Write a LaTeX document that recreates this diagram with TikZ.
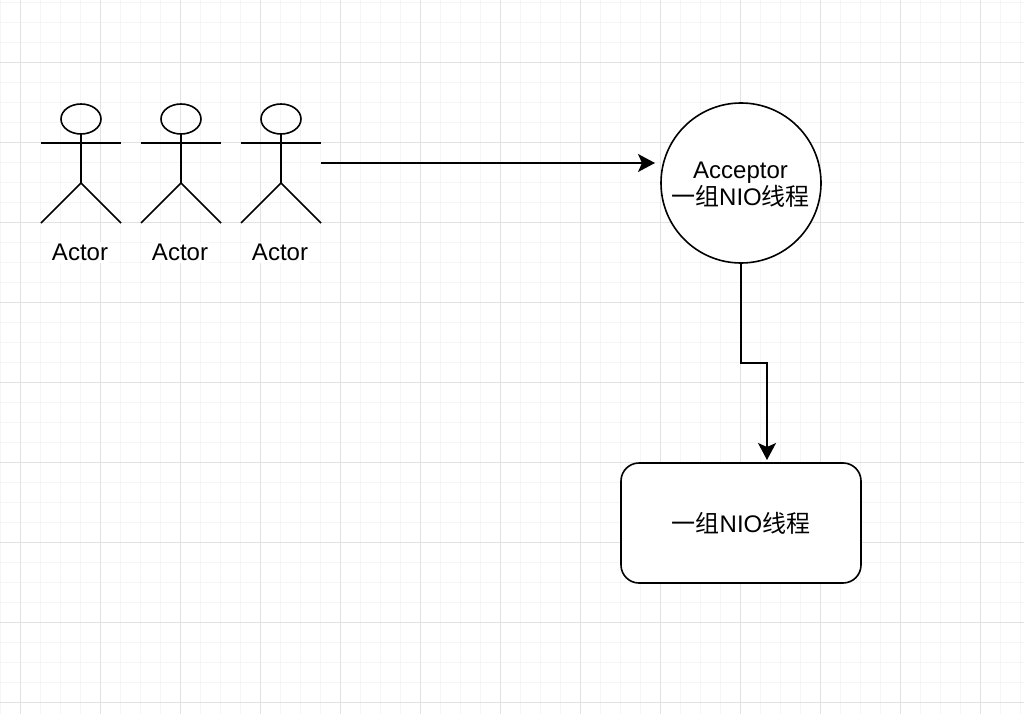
\documentclass[tikz,border=0pt]{standalone}
\usepackage{fontspec}
\setmainfont{Liberation Sans}
\newfontfamily\cjk{Noto Sans CJK SC}
\usetikzlibrary{arrows.meta}
\definecolor{gridmajor}{HTML}{E2E2E2}
\definecolor{gridminor}{HTML}{F5F5F5}
\newcommand{\zu}{{\cjk 一组}NIO{\cjk 线程}}
\tikzset{
  x=1pt,y=-1pt,
  shape line/.style={draw=black,line width=1.6pt,fill=white},
  stick/.style={draw=black,line width=1.6pt},
  conn/.style={draw=black,line width=1.6pt,-{Stealth[length=17pt,width=18pt,inset=4pt]}},
  label text/.style={font=\fontsize{24}{27}\selectfont,text=black,align=center,inner sep=0pt},
  actorlabel/.style={label text,fill=white,inner xsep=1pt,inner ysep=2pt},
  actorman/.pic={
    \node[minimum width=80pt,minimum height=120pt,inner sep=0pt,outer sep=0pt] (-frame) at (0,0) {};
    \draw[stick] (0,-44) ellipse [x radius=20,y radius=15];
    \draw[stick] (-40,-20) -- (40,-20);
    \draw[stick] (0,-29) -- (0,20);
    \draw[stick] (-40,60) -- (0,20) -- (40,60);
    \node[actorlabel] (-name) at (-1,89.5) {Actor};
  }
}
\begin{document}
\begin{tikzpicture}
\path[use as bounding box,fill=white] (0,0) rectangle (1024,714);
% minor grid
\foreach \i in {0,...,51} \draw[gridminor,line width=1pt] ({0.5+20*\i},0) -- ({0.5+20*\i},714);
\foreach \i in {0,...,35} \draw[gridminor,line width=1pt] (0,{2.5+20*\i}) -- (1024,{2.5+20*\i});
% major grid
\foreach \i in {0,...,12} \draw[gridmajor,line width=1pt] ({20.5+80*\i},0) -- ({20.5+80*\i},714);
\foreach \i in {0,...,8} \draw[gridmajor,line width=1pt] (0,{62.5+80*\i}) -- (1024,{62.5+80*\i});

\pic (a1) at (81,163) {actorman};
\pic (a2) at (181,163) {actorman};
\pic (a3) at (281,163) {actorman};

\node[shape line,circle,minimum size=160pt,inner sep=0pt,outer sep=0pt] (acc) at (741,183) {};
\node[label text] (acctext) at (740.5,184.5) {Acceptor\\[-0.5pt]\zu};
\node[shape line,rounded corners=18pt,minimum width=240pt,minimum height=120pt,inner sep=0pt,outer sep=0pt,label text] (grp) at (741,523) {\raisebox{-0.7pt}{\zu}};

\coordinate (grpin) at (767,463);
\coordinate (bend) at (741,363);
\draw[conn,shorten >=6pt] (a3-frame.east) -- (acc.west |- a3-frame.east);
\draw[conn,shorten >=3pt] (acc.south) -- (bend) -| (grpin);
\end{tikzpicture}
\end{document}
